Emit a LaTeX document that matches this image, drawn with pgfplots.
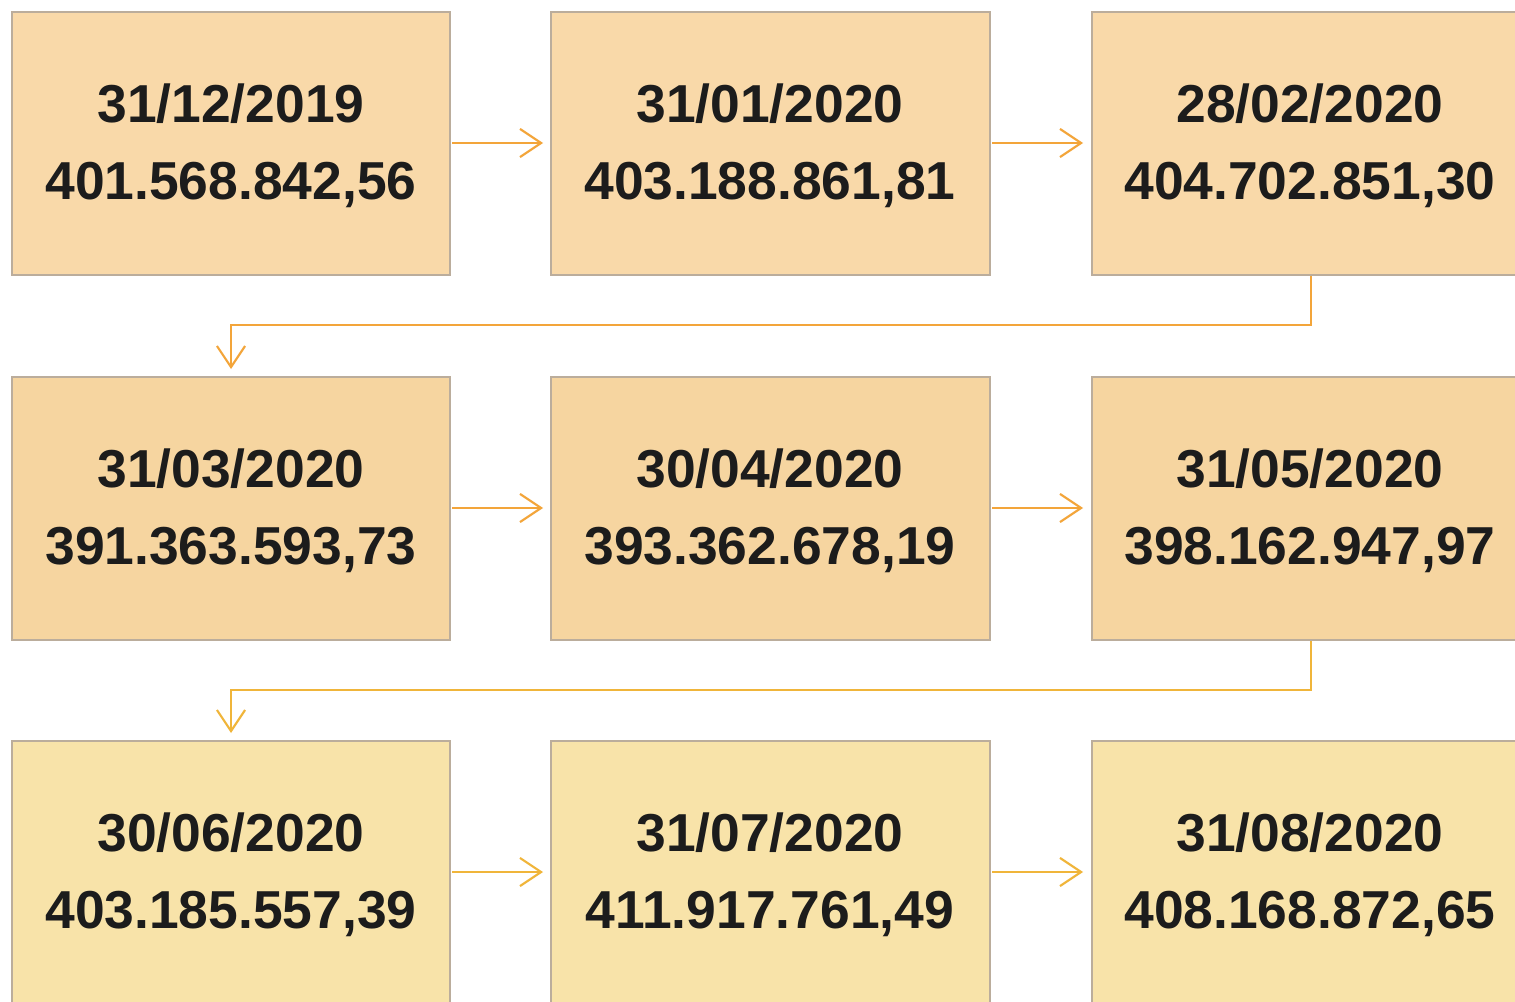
\documentclass[border=0pt]{standalone}
\usepackage{pgfplots}
\pgfplotsset{compat=1.18}
\usepackage{fontspec}
\setmainfont{Liberation Sans}
\usetikzlibrary{arrows.meta}
\definecolor{rowA}{HTML}{F9D9A9}
\definecolor{rowB}{HTML}{F6D5A0}
\definecolor{rowC}{HTML}{F8E3A9}
\definecolor{edge}{HTML}{BBAD9C}
\definecolor{arr}{HTML}{F3A53A}
\definecolor{arrC}{HTML}{F0B53A}
\definecolor{txt}{HTML}{1C1C1C}
\begin{document}
\begin{tikzpicture}
\begin{axis}[
  width=15.15cm, height=10.02cm, scale only axis,
  xmin=0, xmax=1515, ymin=0, ymax=1002, y dir=reverse,
  hide axis, clip=true,
]
% background
\addplot[draw=none, fill=white] coordinates {(0,0) (1515,0) (1515,1002) (0,1002)} --cycle;
% boxes row 1
\addplot[draw=edge, line width=0.4pt, fill=rowA] coordinates {(12,12) (450,12) (450,275) (12,275)} --cycle;
\addplot[draw=edge, line width=0.4pt, fill=rowA] coordinates {(551,12) (990,12) (990,275) (551,275)} --cycle;
\addplot[draw=edge, line width=0.4pt, fill=rowA] coordinates {(1092,12) (1530,12) (1530,275) (1092,275)} --cycle;
% boxes row 2
\addplot[draw=edge, line width=0.4pt, fill=rowB] coordinates {(12,377) (450,377) (450,640) (12,640)} --cycle;
\addplot[draw=edge, line width=0.4pt, fill=rowB] coordinates {(551,377) (990,377) (990,640) (551,640)} --cycle;
\addplot[draw=edge, line width=0.4pt, fill=rowB] coordinates {(1092,377) (1530,377) (1530,640) (1092,640)} --cycle;
% boxes row 3
\addplot[draw=edge, line width=0.4pt, fill=rowC] coordinates {(12,741) (450,741) (450,1015) (12,1015)} --cycle;
\addplot[draw=edge, line width=0.4pt, fill=rowC] coordinates {(551,741) (990,741) (990,1015) (551,1015)} --cycle;
\addplot[draw=edge, line width=0.4pt, fill=rowC] coordinates {(1092,741) (1530,741) (1530,1015) (1092,1015)} --cycle;
% arrows
\pgfplotsset{arrstyle/.style={color=#1, line width=0.6pt, -{Straight Barb[length=6pt, width=8pt]}}}
\addplot[arrstyle=arr] coordinates {(452,143) (543,143)};
\addplot[arrstyle=arr] coordinates {(992,143) (1083,143)};
\addplot[arrstyle=arr] coordinates {(452,508) (543,508)};
\addplot[arrstyle=arr] coordinates {(992,508) (1083,508)};
\addplot[arrstyle=arrC] coordinates {(452,872) (543,872)};
\addplot[arrstyle=arrC] coordinates {(992,872) (1083,872)};
\addplot[arrstyle=arr] coordinates {(1311,276) (1311,325) (231,325) (231,369)};
\addplot[arrstyle=arrC] coordinates {(1311,641) (1311,690) (231,690) (231,733)};
% labels
\addplot[draw=none, mark=none, nodes near coords, point meta=explicit symbolic,
  nodes near coords style={anchor=base, inner sep=0pt, text=txt, font=\fontsize{15.2}{17}\selectfont\bfseries}]
  table[meta=label, row sep=\\] {
x y label\\
231 122 31/12/2019\\
231 199 401.568.842,56\\
770 122 31/01/2020\\
770 199 403.188.861,81\\
1310 122 28/02/2020\\
1310 199 404.702.851,30\\
231 487 31/03/2020\\
231 564 391.363.593,73\\
770 487 30/04/2020\\
770 564 393.362.678,19\\
1310 487 31/05/2020\\
1310 564 398.162.947,97\\
231 851 30/06/2020\\
231 928 403.185.557,39\\
770 851 31/07/2020\\
770 928 411.917.761,49\\
1310 851 31/08/2020\\
1310 928 408.168.872,65\\
};
\end{axis}
\end{tikzpicture}
\end{document}
